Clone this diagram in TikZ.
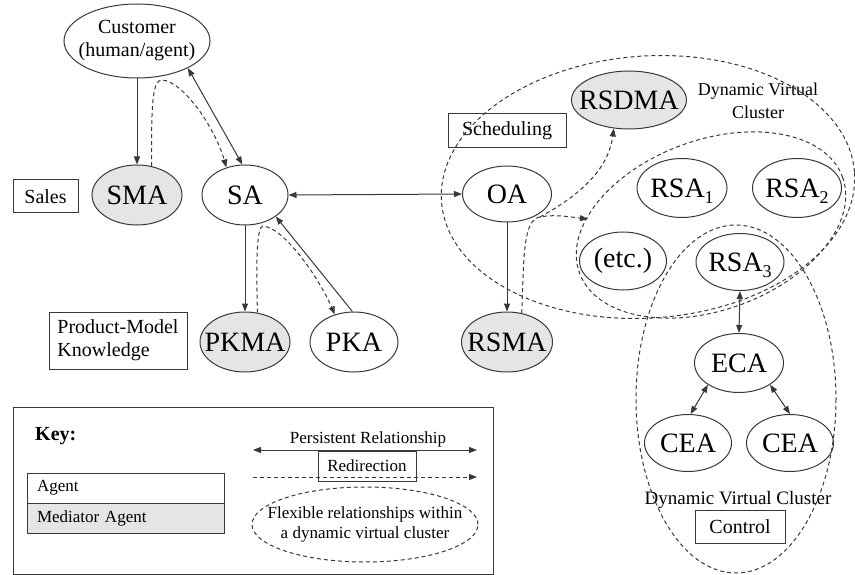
\documentclass[tikz,border=0pt]{standalone}
\usepackage{fontspec}
\setmainfont{Liberation Serif}
\usetikzlibrary{shapes.geometric,arrows.meta}

\definecolor{inkgray}{gray}{0.22}
\definecolor{medfill}{gray}{0.9}

% zero-width centred text, so the ellipse keeps its given size
\newcommand{\zw}[1]{\makebox[0pt]{#1}}
% lowered index digit for the RSA agents
\newcommand{\lowsub}[1]{\raisebox{-6pt}[0pt][0pt]{\fontsize{18}{18}\selectfont #1}}

\begin{document}
\begin{tikzpicture}[x=1pt,y=-1pt,
  >={Triangle[length=8pt,width=6pt]},
  agent/.style={ellipse, draw=inkgray, line width=1pt, inner sep=0pt,
    minimum width=89pt, minimum height=59pt, font=\fontsize{28}{30}\selectfont},
  mediator/.style={agent, fill=medfill},
  labelbox/.style={rectangle, draw=inkgray, line width=1pt, inner sep=0pt,
    font=\fontsize{20}{23}\selectfont},
  keycell/.style={rectangle, draw=inkgray, line width=1pt, minimum width=197pt,
    minimum height=30pt, text width=177pt, align=left, inner xsep=10pt,
    inner ysep=0pt, font=\fontsize{17}{20}\selectfont},
  link/.style={draw=inkgray, line width=1pt, ->},
  persist/.style={draw=inkgray, line width=1pt, <->},
  redir/.style={draw=inkgray, line width=1pt, dash pattern=on 4pt off 3pt, ->},
  cluster/.style={draw=inkgray, line width=1pt, dash pattern=on 4pt off 3pt},
]
\useasboundingbox (0,0) rectangle (855,575);

% ---- agents ----
\node[agent, minimum width=146pt, minimum height=74pt,
      font=\fontsize{20}{23}\selectfont, align=center] (cust) at (137,41)
      {\zw{Customer}\\\zw{(human/agent)}};
\node[mediator, minimum width=90pt, minimum height=60pt] (sma) at (137,195) {\zw{SMA}};
\node[agent, minimum width=86pt, minimum height=60pt] (sa) at (245,195) {\zw{SA}};
\node[mediator, minimum width=90pt, minimum height=60pt] (pkma) at (245,342) {\zw{PKMA}};
\node[agent, minimum width=88pt, minimum height=60pt] (pka) at (354,342) {\zw{PKA}};
\node[agent, minimum width=89pt, minimum height=56pt] (oa) at (507,194) {\zw{OA}};
\node[mediator, minimum width=91pt, minimum height=60pt] (rsma) at (507,342) {\zw{RSMA}};
\node[mediator, minimum width=115pt, minimum height=58pt] (rsdma) at (629,100) {\zw{RSDMA}};
\node[agent, minimum width=90pt] (rsa1) at (682,188) {\zw{RSA\lowsub{1}}};
\node[agent] (rsa2) at (797,188) {\zw{RSA\lowsub{2}}};
\node[agent, minimum width=87pt, minimum height=58pt] (etc) at (623,261) {\zw{(etc.)}};
\node[agent, minimum width=88pt, minimum height=57pt] (rsa3) at (740,262) {\zw{RSA\lowsub{3}}};
\node[agent] (eca) at (739,363) {\zw{ECA}};
\node[agent, minimum width=87pt, minimum height=57pt] (ceaL) at (688,443) {\zw{CEA}};
\node[agent, minimum width=87pt, minimum height=57pt] (ceaR) at (790,443) {\zw{CEA}};

% ---- area labels ----
\node[labelbox, minimum width=65pt, minimum height=33pt] (sales) at (45.5,196.5) {Sales};
\node[labelbox, minimum width=118pt, minimum height=34pt] (sched) at (507,131) {Scheduling};
\node[labelbox, minimum width=138pt, minimum height=57pt, align=left] (pmk) at (118,340.5)
      {Product-Model\\Knowledge};
\node[labelbox, minimum width=90pt, minimum height=33pt] (ctrl) at (740,526.5) {Control};
\node[font=\fontsize{18}{23}\selectfont, align=center] (dvcTop) at (758,101)
      {Dynamic Virtual\\Cluster};
\node[font=\fontsize{19}{22}\selectfont] (dvcBot) at (738,500) {Dynamic Virtual Cluster};

% ---- dynamic virtual clusters ----
\draw[cluster, rotate around={4:(648,187)}] (648,187) ellipse [x radius=207, y radius=131];
\draw[cluster, rotate around={20:(711,225)}] (711,225) ellipse [x radius=140, y radius=85];
\draw[cluster] (736,399) ellipse [x radius=100, y radius=174];

% ---- sales side ----
\draw[link] (cust.south) -- (sma.north);
\draw[persist] (cust.-28) -- (sa.95);
\coordinate (bendA) at (162,80);
\draw[redir] (sma.63) .. controls (151,100) and (153,80) .. (bendA)
      .. controls (182,81) and (214,125) .. (sa.124);

% ---- product-model knowledge ----
\draw[link] (sa.south) -- (pkma.north);
\coordinate (bendB) at (263,226);
\draw[redir] (pkma.67) .. controls (256,255) and (257,227) .. (bendB)
      .. controls (285,228) and (320,280) .. (pka.125);
\draw[link] (pka.93) -- (sa.-35);

% ---- scheduling ----
\draw[persist] (sa.east) -- (oa.west);
\draw[link] (oa.south) -- (rsma.north);
\coordinate (bendC) at (540,217);
\coordinate (toCluster) at (588,219);
\draw[redir] (rsma.63) .. controls (524,255) and (523,220) .. (bendC)
      .. controls (555,214) and (570,217) .. (toCluster);
\draw[redir] (bendC) .. controls (580,195) and (608,170) .. (rsdma.-118);

% ---- control ----
\draw[persist] (rsa3.south) -- (eca.north);
\draw[persist] (eca.-145) -- (ceaL.85);
\draw[persist] (eca.-35) -- (ceaR.north);

% ---- key ----
\node[draw=inkgray, line width=1pt, minimum width=480pt, minimum height=167pt,
      inner sep=0pt] (keybox) at (253,490.5) {};
\node[anchor=west, inner sep=0pt, font=\bfseries\fontsize{20}{23}\selectfont]
      (keytitle) at (35,436) {Key:};
\node[keycell] (kagent) at (125.5,488) {Agent};
\node[keycell, fill=medfill] (kmed) at (125.5,518) {Mediator Agent};
\node[font=\fontsize{17}{20}\selectfont] (ptext) at (368,439) {Persistent Relationship};
\coordinate (pL) at (253,450);
\coordinate (pR) at (477,450);
\draw[persist] (pL) -- (pR);
\node[labelbox, font=\fontsize{17}{20}\selectfont, minimum width=98pt, minimum height=30pt]
      (redbox) at (367,466) {Redirection};
\coordinate (rL) at (253,477);
\coordinate (rR) at (477,477);
\draw[redir] (rL) -- (rR);
\node[ellipse, draw=inkgray, line width=1pt, dash pattern=on 4pt off 3pt,
      minimum width=226pt, minimum height=75pt, inner sep=0pt, align=center,
      font=\fontsize{17}{20}\selectfont] (flex) at (365,524.5)
      {\zw{Flexible relationships within}\\\zw{a dynamic virtual cluster}};
\end{tikzpicture}
\end{document}
